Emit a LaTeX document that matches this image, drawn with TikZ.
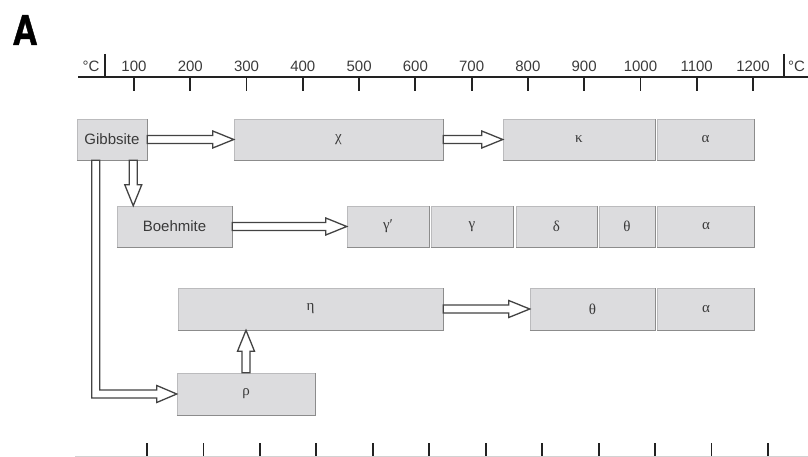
\documentclass[tikz,border=0pt]{standalone}
\usepackage{fontspec}
\setmainfont{Liberation Sans}
\newfontfamily\grk{Liberation Serif}
\newfontfamily\headfont{TeX Gyre Heros}[BoldFeatures={FakeBold=1.2}]
\usetikzlibrary{calc}
\definecolor{boxfill}{HTML}{DCDCDE}
\definecolor{boxedge}{HTML}{8C8C8C}
\definecolor{txtcol}{HTML}{3A3A3A}
\definecolor{axiscol}{HTML}{222222}
\newcommand{\hollowarr}[2]{%
  \coordinate (hs) at (#1);
  \coordinate (he) at (#2);
  \coordinate (hm) at ($(he)!21pt!(hs)$);
  \draw[arrowline] ($(hs)!4pt!90:(he)$) -- ($(hm)!4pt!-90:(hs)$) -- ($(hm)!8.5pt!-90:(hs)$) -- (he)
    -- ($(hm)!8.5pt!90:(hs)$) -- ($(hm)!4pt!90:(hs)$) -- ($(hs)!4pt!-90:(he)$) -- cycle;
}
\begin{document}
\begin{tikzpicture}[x=1pt,y=-1pt,
  box/.style={fill=boxfill, draw=boxfill!85!black, line width=0.5pt, inner sep=0pt, text=txtcol,
    font=\fontsize{15}{15}\selectfont},
  gbox/.style={box, font=\grk\fontsize{15}{15}\selectfont},
  arrowline/.style={draw=axiscol!85, line width=1.3pt, fill=white, line join=miter},
  axisline/.style={draw=axiscol, line width=1.4pt},
  ticklin/.style={draw=axiscol, line width=1.8pt},
  lbl/.style={text=txtcol, font=\fontsize{15}{15}\selectfont, inner sep=0pt},
  shadeline/.style={draw=boxedge, line width=1pt}]
\useasboundingbox (0,0) rectangle (808,457);

% panel letter
\node[font=\headfont\bfseries\fontsize{29}{29}\selectfont, inner sep=0pt] (letA) at (25,30) {\scalebox{1.2}[1.4]{A}};

% top axis
\draw[axisline] (78,77) -- (808,77);
\draw[ticklin] (105,54) -- (105,77);
\draw[ticklin] (784,54) -- (784,77);
\node[lbl] (cl) at (91,66) {°C};
\node[lbl, anchor=west] (cr) at (788,66) {°C};
\foreach \t [count=\i from 0] in {100,200,...,1200} {
  \node[lbl] (t\i) at (134+56.27*\i,66) {\t};
  \draw[ticklin] (134+56.27*\i,77) -- (134+56.27*\i,91);
}

% bottom axis (cut)
\draw[draw=gray!35, line width=0.8pt] (75,456.3) -- (808,456.3);
\foreach \i in {0,...,11} {
  \draw[ticklin] (147+56.45*\i,443) -- (147+56.45*\i,456);
}

% row 1
\node[box, minimum width=70pt, minimum height=41pt] (gib) at (112,139.5) {Gibbsite};
\node[gbox, minimum width=209pt, minimum height=41pt] (chi) at (338.5,139.5) {χ};
\node[gbox, minimum width=152pt, minimum height=41pt] (kap) at (579,139.5) {κ};
\node[gbox, minimum width=97pt, minimum height=41pt] (alA) at (705.5,139.5) {α};

% row 2
\node[box, minimum width=115pt, minimum height=41pt] (boe) at (174.5,226.5) {Boehmite};
\node[gbox, minimum width=82pt, minimum height=41pt] (gamp) at (388,226.5) {γ′};
\node[gbox, minimum width=82pt, minimum height=41pt] (gam) at (472,226.5) {γ};
\node[gbox, minimum width=81pt, minimum height=41pt] (del) at (556.5,226.5) {δ};
\node[gbox, minimum width=56pt, minimum height=41pt] (thB) at (627,226.5) {θ};
\node[gbox, minimum width=97pt, minimum height=41pt] (alB) at (706,226.5) {α};

% row 3
\node[gbox, minimum width=265pt, minimum height=42pt] (eta) at (310.5,309) {η};
\node[gbox, minimum width=125pt, minimum height=42pt] (thC) at (592.5,309) {θ};
\node[gbox, minimum width=97pt, minimum height=42pt] (alC) at (706,309) {α};

% row 4
\node[gbox, minimum width=138pt, minimum height=42pt] (rho) at (246,394) {ρ};

% darker bottom / right edges
\foreach \n in {gib,chi,kap,alA,boe,gamp,gam,del,thB,alB,eta,thC,alC,rho} {
  \draw[shadeline] (\n.south west) -- (\n.south east) -- (\n.north east);
}

% arrows
\hollowarr{gib.east}{chi.west}
\hollowarr{chi.east}{kap.west}
\hollowarr{boe.east}{gamp.west}
\hollowarr{eta.east}{thC.west}
\coordinate (ds) at ([xshift=-14pt]gib.south east);
\coordinate (de) at (ds |- boe.north);
\hollowarr{ds}{de}
\coordinate (us) at (rho.north);
\coordinate (ue) at (us |- eta.south);
\hollowarr{us}{ue}

% L-shaped arrow Gibbsite -> rho
\coordinate (la) at ([xshift=15pt]gib.south west);
\coordinate (lb) at ([xshift=23pt]gib.south west);
\coordinate (hb) at ($(rho.west)+(-20,0)$);
\coordinate (lo1) at ($(hb)+(0,4)$);
\coordinate (lo2) at ($(hb)+(0,8.5)$);
\coordinate (hi1) at ($(hb)+(0,-4)$);
\coordinate (hi2) at ($(hb)+(0,-8.5)$);
\draw[arrowline] (la) -- (la |- lo1) -- (lo1) -- (lo2) -- (rho.west) -- (hi2) -- (hi1) -- (lb |- hi1) -- (lb) -- cycle;
\end{tikzpicture}
\end{document}
